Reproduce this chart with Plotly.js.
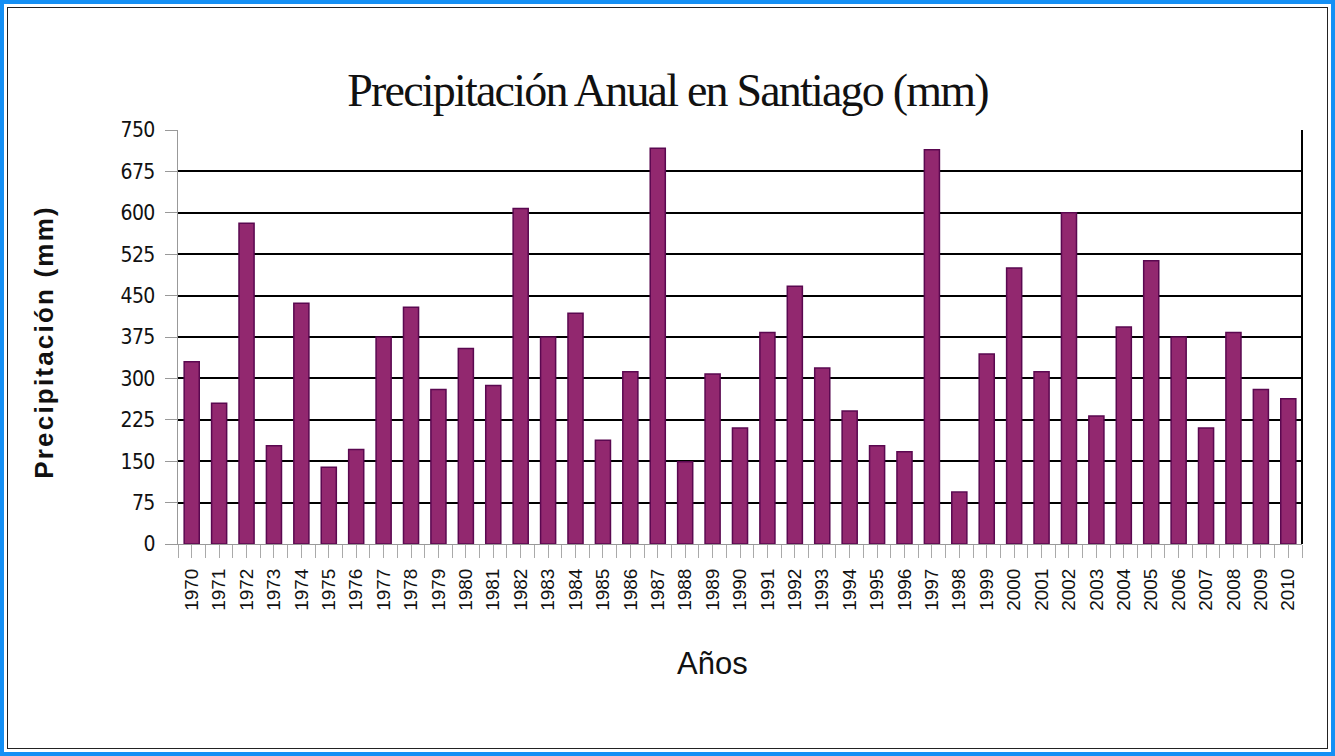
<!DOCTYPE html>
<html>
<head>
<meta charset="utf-8">
<script src="https://cdn.plot.ly/plotly-3.0.1.min.js"></script>
<style>
html,body{margin:0;padding:0;background:#fff;}
#wrap{position:relative;width:1335px;height:756px;overflow:hidden;}
#chart{position:absolute;left:0;top:0;width:1335px;height:756px;}
#outer{position:absolute;left:0;top:0;width:1335px;height:756px;box-sizing:border-box;border:4px solid #1590f5;pointer-events:none;}
#inner{position:absolute;left:3px;top:3px;right:3px;bottom:3px;border:1px solid #222;pointer-events:none;}
.gtitle{letter-spacing:-1.8px;}
.ytick text{letter-spacing:-0.6px;}
</style>
</head>
<body>
<div id="wrap">
<div id="chart"></div>
<div id="outer"><div id="inner"></div></div>
</div>
<script>
const years = ["1970","1971","1972","1973","1974","1975","1976","1977","1978","1979",
  "1980","1981","1982","1983","1984","1985","1986","1987","1988","1989",
  "1990","1991","1992","1993","1994","1995","1996","1997","1998","1999",
  "2000","2001","2002","2003","2004","2005","2006","2007","2008","2009","2010"];
const precipitation = [330,255,581,178,436,139,171,375,429,280,
  354,287,608,375,418,188,312,717,149,308,
  210,383,467,319,241,178,167,714,94,344,
  500,312,600,232,393,513,375,210,383,280,263];
const yTicks = [0,75,150,225,300,375,450,525,600,675,750];
const titleText = 'Precipitación Anual en Santiago (mm)';
const yTitleText = 'Precipitación (mm)';
const xTitleText = 'Años';

const sans = 'Liberation Sans, Arial, sans-serif';
const narrow = 'Liberation Sans Narrow, DejaVu Sans Condensed, Arial Narrow, sans-serif';

const bars = {
  type: 'bar',
  x: years,
  y: precipitation,
  marker: {color: '#92286f', line: {color: '#5a0850', width: 1.5}},
  hoverinfo: 'x+y'
};
// invisible companion trace so the centre ticks get their own axis
const centreTicks = {
  type: 'scatter', mode: 'none',
  x: years, y: precipitation,
  xaxis: 'x2', yaxis: 'y', hoverinfo: 'skip', showlegend: false
};

const n = years.length;
const layout = {
  width: 1335, height: 756,
  paper_bgcolor: '#ffffff', plot_bgcolor: '#ffffff',
  margin: {l: 178, r: 33, t: 130, b: 212},
  bargap: 0.45,
  showlegend: false,
  title: {
    text: titleText,
    font: {family: 'Liberation Serif, Times New Roman, serif', size: 46, color: '#111'},
    x: 0.5, xanchor: 'center', xref: 'container', y: 1 - 90/756, yanchor: 'middle', yref: 'container'
  },
  xaxis: {
    type: 'category',
    range: [-0.5, n - 0.5],
    tickangle: -90,
    tickfont: {family: sans, size: 19, color: '#111'},
    ticks: 'outside', ticklen: 13, tickcolor: '#aaa', tickson: 'boundaries',
    ticklabelstandoff: 16,
    showline: true, linecolor: '#999', linewidth: 1,
    showgrid: false, zeroline: false
  },
  xaxis2: {
    type: 'category',
    overlaying: 'x', anchor: 'y', side: 'bottom',
    range: [-0.5, n - 0.5],
    ticks: 'outside', ticklen: 13, tickcolor: '#aaa',
    showticklabels: false, showgrid: false, zeroline: false, showline: false
  },
  yaxis: {
    range: [0, 750],
    tickvals: yTicks,
    ticktext: yTicks.map(String),
    tickfont: {family: narrow, size: 21, color: '#111'},
    ticks: 'outside', ticklen: 12, tickcolor: '#999',
    ticklabelstandoff: 6,
    showline: true, linecolor: '#999', linewidth: 1,
    showgrid: true, gridcolor: '#000', gridwidth: 2,
    zeroline: false
  },
  annotations: [
    {text: xTitleText, xref: 'paper', yref: 'paper', x: (712 - 178) / 1124, y: (544 - 663) / 414,
     xanchor: 'center', yanchor: 'middle', showarrow: false,
     font: {family: sans, size: 31, color: '#111'}},
    {text: yTitleText, xref: 'paper', yref: 'paper', x: (44 - 178) / 1124, y: (544 - 342) / 414,
     xanchor: 'center', yanchor: 'middle', textangle: -90, showarrow: false,
     font: {family: sans, size: 26, color: '#111', weight: 'bold'}}
  ],
  shapes: [
    {type: 'line', xref: 'paper', yref: 'paper', x0: 1, x1: 1, y0: 0, y1: 1, line: {color: '#000', width: 2}}
  ]
};

Plotly.newPlot('chart', [bars, centreTicks], layout, {displayModeBar: false, staticPlot: true}).then(function(){
  const anns = document.querySelectorAll('.annotation-text');
  anns.forEach(function(t){ if (t.textContent === yTitleText) t.style.letterSpacing = '2.2px'; });
});
</script>
</body>
</html>
